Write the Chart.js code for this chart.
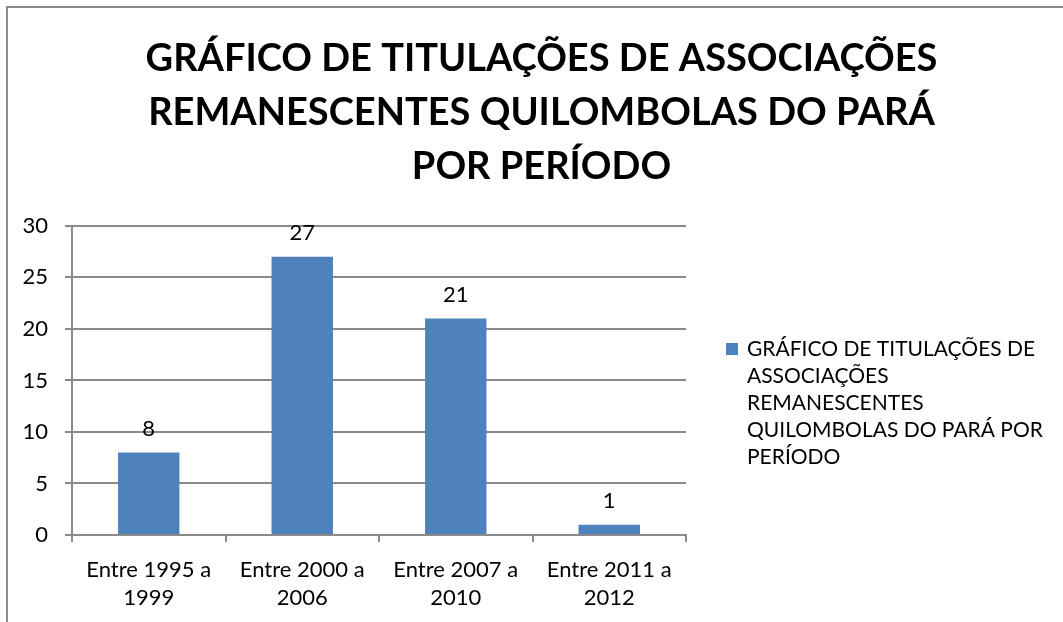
<!DOCTYPE html>
<html>
<head>
<meta charset="utf-8">
<title>Titulações quilombolas</title>
<script src="https://cdn.jsdelivr.net/npm/chart.js@4/dist/chart.umd.min.js"></script>
<style>
    html, body { margin: 0; padding: 0; background: #fff; }
    #wrap { position: relative; width: 1063px; height: 622px; }
</style>
</head>
<body>
<div id="wrap"><canvas id="chart" width="1063" height="622"></canvas></div>
<script>
// Chart data
const periodos = [
    ["Entre 1995 a", "1999"],
    ["Entre 2000 a", "2006"],
    ["Entre 2007 a", "2010"],
    ["Entre 2011 a", "2012"],
];
const titulacoes = [8, 27, 21, 1];
const nomeSerie = "GRÁFICO DE TITULAÇÕES DE ASSOCIAÇÕES REMANESCENTES QUILOMBOLAS DO PARÁ POR PERÍODO";
const tituloLinhas = [
    "GRÁFICO DE TITULAÇÕES DE ASSOCIAÇÕES",
    "REMANESCENTES QUILOMBOLAS DO PARÁ",
    "POR PERÍODO",
];
const yMin = 0, yMax = 30, yStep = 5;

const FONT = "Lato, 'Open Sans', sans-serif";
const GRID = "#8a8a8a";
const BAR = "#4f81bd";

// outer frame (only top and left edges are visible in the crop)
const frame = {
    id: "frame",
    beforeDraw(chart) {
        const ctx = chart.ctx;
        ctx.save();
        ctx.strokeStyle = "#8c8c8c";
        ctx.lineWidth = 2;
        ctx.beginPath();
        ctx.moveTo(7, chart.height);
        ctx.lineTo(7, 7);
        ctx.lineTo(chart.width, 7);
        ctx.stroke();
        ctx.restore();
    },
};

// value labels above the bars
const valueLabels = {
    id: "valueLabels",
    afterDatasetsDraw(chart) {
        const ctx = chart.ctx;
        ctx.save();
        ctx.font = "22px " + FONT;
        ctx.fillStyle = "#000";
        ctx.textAlign = "center";
        ctx.textBaseline = "alphabetic";
        chart.data.datasets.forEach((ds, i) => {
            chart.getDatasetMeta(i).data.forEach((bar, j) => {
                ctx.fillText(ds.data[j], bar.x, bar.y - 17);
            });
        });
        ctx.restore();
    },
};

// legend on the right with wrapped text
const sideLegend = {
    id: "sideLegend",
    afterDraw(chart) {
        const ctx = chart.ctx;
        const x0 = chart.chartArea.right + 40;
        const y0 = 349;
        const lineH = 27;
        const maxW = 296;
        ctx.save();
        ctx.font = "21px " + FONT;
        chart.data.datasets.forEach((ds) => {
            const words = ds.label.split(" ");
            const lines = [];
            let cur = "";
            words.forEach((w) => {
                const test = cur ? cur + " " + w : w;
                if (ctx.measureText(test).width > maxW && cur) {
                    lines.push(cur);
                    cur = w;
                } else {
                    cur = test;
                }
            });
            if (cur) lines.push(cur);

            ctx.fillStyle = ds.backgroundColor;
            ctx.fillRect(x0, y0 - 6, 12, 12);
            ctx.fillStyle = "#000";
            ctx.textBaseline = "middle";
            lines.forEach((line, k) => {
                ctx.fillText(line, x0 + 21, y0 + k * lineH);
            });
        });
        ctx.restore();
    },
};

const ctx = document.getElementById("chart").getContext("2d");
const chart = new Chart(ctx, {
    type: "bar",
    data: {
        labels: periodos,
        datasets: [{
            label: nomeSerie,
            data: titulacoes,
            backgroundColor: BAR,
            borderWidth: 0,
            barPercentage: 0.4,
            categoryPercentage: 1.0,
        }],
    },
    options: {
        responsive: false,
        animation: false,
        events: [],
        layout: { padding: { left: 20, right: 0, top: 0, bottom: 1 } },
        plugins: {
            legend: { display: false },
            tooltip: { enabled: false },
            title: {
                display: true,
                text: tituloLinhas,
                color: "#000",
                font: { family: FONT, size: 38, weight: "bold", lineHeight: 1.42 },
                padding: { top: 32, bottom: 32 },
            },
        },
        scales: {
            x: {
                afterFit(scale) { scale.height = 86; },
                grid: { display: true, drawOnChartArea: false, drawTicks: true, tickLength: 7, color: GRID, lineWidth: 2 },
                border: { display: true, color: GRID, width: 2 },
                ticks: { color: "#000", font: { family: FONT, size: 22, lineHeight: 1.27 }, padding: 14, maxRotation: 0, autoSkip: false },
            },
            y: {
                min: yMin,
                max: yMax,
                afterFit(scale) { scale.width = 52; },
                grid: { color: GRID, lineWidth: 2, tickLength: 7 },
                border: { display: true, color: GRID, width: 2 },
                ticks: { stepSize: yStep, color: "#000", font: { family: FONT, size: 22 }, padding: 17 },
            },
            spacer: {
                position: "right",
                display: true,
                afterFit(scale) { scale.width = 377; },
                grid: { display: false },
                border: { display: false },
                ticks: { display: false },
            },
        },
    },
    plugins: [frame, valueLabels, sideLegend],
});
</script>
</body>
</html>
